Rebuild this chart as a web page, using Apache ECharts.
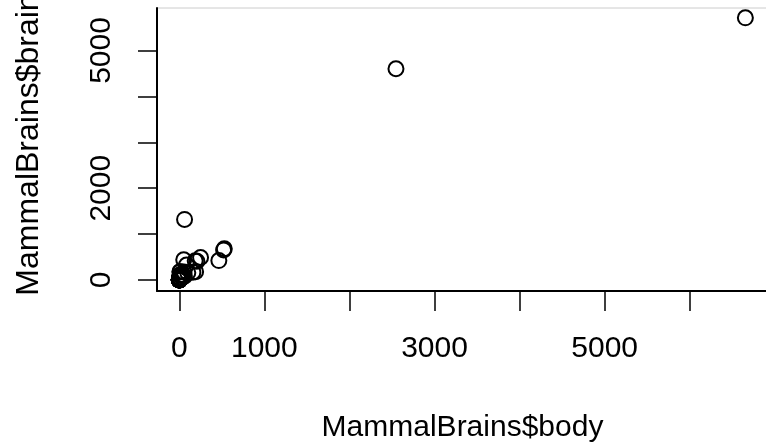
<!DOCTYPE html>
<html>
<head>
<meta charset="utf-8">
<script src="https://cdn.jsdelivr.net/npm/echarts@6/dist/echarts.min.js"></script>
<style>html,body{margin:0;padding:0;background:#fff;}#c{width:766px;height:442px;}</style>
</head>
<body>
<div id="c"></div>
<script>
const species = ["Arctic fox","Owl monkey","Mountain beaver","Cow","Grey wolf","Goat","Roe deer","Guinea pig","Verbet","Chinchilla","Ground squirrel","Arctic ground squirrel","African giant pouched rat","Lesser short-tailed shrew","Star-nosed mole","Nine-banded armadillo","Tree hyrax","N.A. opossum","Asian elephant","Big brown bat","Donkey","Horse","European hedgehog","Patas monkey","Cat","Galago","Genet","Giraffe","Gorilla","Grey seal","Rock hyrax-a","Human","African elephant","Water opossum","Rhesus monkey","Kangaroo","Yellow-bellied marmot","Golden hamster","Mouse","Little brown bat","Slow loris","Okapi","Rabbit","Sheep","Jaguar","Chimpanzee","Baboon","Desert hedgehog","Giant armadillo","Rock hyrax-b","Raccoon","Rat","E. American mole","Mole rat","Musk shrew","Pig","Echidna","Brazilian tapir","Tenrec","Phalanger","Tree shrew","Red fox"];
const body = [3.385,0.48,1.35,465,36.33,27.66,14.83,1.04,4.19,0.425,0.101,0.92,1,0.005,0.06,3.5,2,1.7,2547,0.023,187.1,521,0.785,10,3.3,0.2,1.41,529,207,85,0.75,62,6654,3.5,6.8,35,4.05,0.12,0.023,0.01,1.4,250,2.5,55.5,100,52.16,10.55,0.55,60,3.6,4.288,0.28,0.075,0.122,0.048,192,3,160,0.9,1.62,0.104,4.235];
const brain = [44.5,15.5,8.1,423,119.5,115,98.2,5.5,58,6.4,4,5.7,6.6,0.14,1,10.8,12.3,6.3,4603,0.3,419,655,3.5,115,25.6,5,17.5,680,406,325,12.3,1320,5712,3.9,179,56,17,1,0.4,0.25,12.5,490,12.1,175,157,440,179.5,2.4,81,21,39.2,1.9,1.2,3,0.33,180,25,169,2.6,11.4,2.5,50.4];
const xTicks = [0,1000,2000,3000,4000,5000,6000];
const xLabels = [0,1000,3000,5000];
const yTicks = [0,1000,2000,3000,4000,5000];
const yLabels = [0,2000,5000];
const xTitle = "MammalBrains$body";
const yTitle = "MammalBrains$brain";

const points = body.map((b,i)=>[b, brain[i]]);
const font = "Liberation Sans, Arial, sans-serif";
const plain = v => String(v);
const chart = echarts.init(document.getElementById('c'), null, {renderer:'canvas'});
chart.setOption({
  animation:false,
  backgroundColor:'#fff',
  grid:{left:157, top:8, right:-2, bottom:151, containLabel:false, outerBoundsMode:'none',
        show:true, borderColor:'#cccccc', borderWidth:1, backgroundColor:'transparent'},
  xAxis:{
    type:'value', min:-262, max:6920,
    name:xTitle, nameLocation:'middle', nameGap:122,
    nameTextStyle:{fontFamily:font, fontSize:30, color:'#000'},
    axisLine:{show:true, onZero:false, lineStyle:{color:'#000', width:2}},
    axisTick:{show:true, length:20, inside:false, customValues:xTicks, lineStyle:{color:'#000', width:1.5}},
    axisLabel:{show:true, customValues:xLabels, formatter:plain, margin:43, fontFamily:font, fontSize:30, color:'#000', hideOverlap:false},
    splitLine:{show:false}
  },
  yAxis:{
    type:'value', min:-240, max:5926,
    name:yTitle, nameLocation:'middle', nameGap:112, nameRotate:90,
    nameTextStyle:{fontFamily:font, fontSize:32, color:'#000', padding:[0,0,0,10]},
    axisLine:{show:true, onZero:false, lineStyle:{color:'#000', width:2}},
    axisTick:{show:true, length:19, inside:false, customValues:yTicks, lineStyle:{color:'#000', width:1.5}},
    axisLabel:{show:true, customValues:yLabels, formatter:plain, rotate:90, margin:40, fontFamily:font, fontSize:30, color:'#000', hideOverlap:false},
    splitLine:{show:false}
  },
  series:[{
    type:'scatter', data:points, symbol:'circle', symbolSize:15,
    itemStyle:{color:'rgba(0,0,0,0)', borderColor:'#000', borderWidth:2, opacity:1},
    clip:false
  }]
});
</script>
</body>
</html>
